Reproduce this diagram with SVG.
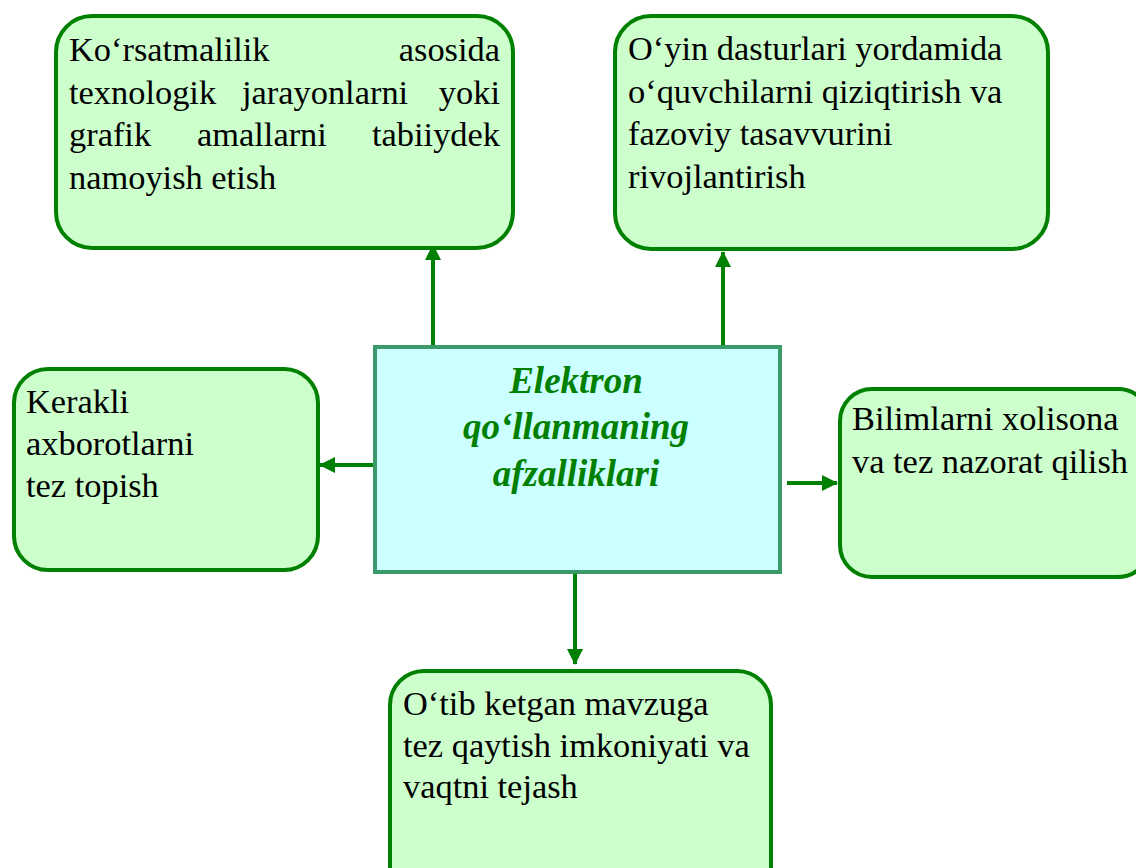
<svg xmlns="http://www.w3.org/2000/svg" width="1136" height="868" viewBox="0 0 1136 868">
<defs>
<style>
.box{fill:#CCFFCC;stroke:#008000;stroke-width:4}
.center{fill:#CCFFFF;stroke:#3A9A6A;stroke-width:4}
.c{stroke:#008000;stroke-width:4;fill:none}
</style>
<marker id="ah" markerUnits="userSpaceOnUse" markerWidth="16" markerHeight="16" viewBox="0 0 16 16" refX="15" refY="8" orient="auto">
<path d="M0,0 L16,8 L0,16 Z" fill="#008000"/>
</marker>
</defs>
<rect width="1136" height="868" fill="#fff"/>
<g id="connectors">
<line class="c" x1="433" y1="346" x2="433" y2="245" marker-end="url(#ah)"/>
<line class="c" x1="723" y1="351" x2="723" y2="252" marker-end="url(#ah)"/>
<line class="c" x1="373" y1="465" x2="320" y2="465" marker-end="url(#ah)"/>
<line class="c" x1="787" y1="483" x2="837" y2="483" marker-end="url(#ah)"/>
<line class="c" x1="575" y1="573" x2="575" y2="664" marker-end="url(#ah)"/>
</g>
<g id="node-top-left">
<rect class="box" x="56" y="16" width="457" height="232" rx="36"/>
<text font-family="'Liberation Serif'" font-size="34.4" fill="#000" x="69" y="61">Ko‘rsatmalilik</text>
<text font-family="'Liberation Serif'" font-size="34.4" fill="#000" x="500" y="61" text-anchor="end">asosida</text>
<text font-family="'Liberation Serif'" font-size="34.4" fill="#000" x="69" y="104">texnologik</text>
<text font-family="'Liberation Serif'" font-size="34.4" fill="#000" x="242" y="104">jarayonlarni</text>
<text font-family="'Liberation Serif'" font-size="34.4" fill="#000" x="500" y="104" text-anchor="end">yoki</text>
<text font-family="'Liberation Serif'" font-size="34.4" fill="#000" x="69" y="146">grafik</text>
<text font-family="'Liberation Serif'" font-size="34.4" fill="#000" x="197" y="146">amallarni</text>
<text font-family="'Liberation Serif'" font-size="34.4" fill="#000" x="500" y="146" text-anchor="end">tabiiydek</text>
<text font-family="'Liberation Serif'" font-size="34.4" fill="#000" x="69" y="189">namoyish etish</text>
</g>
<g id="node-top-right">
<rect class="box" x="615" y="16" width="433" height="233" rx="36"/>
<text font-family="'Liberation Serif'" font-size="34.4" fill="#000" x="628" y="60">O‘yin dasturlari yordamida</text>
<text font-family="'Liberation Serif'" font-size="34.4" fill="#000" x="628" y="103">o‘quvchilarni qiziqtirish va</text>
<text font-family="'Liberation Serif'" font-size="34.4" fill="#000" x="628" y="145">fazoviy tasavvurini</text>
<text font-family="'Liberation Serif'" font-size="34.4" fill="#000" x="628" y="188">rivojlantirish</text>
</g>
<g id="node-center">
<rect class="center" x="375" y="347" width="405" height="225"/>
<text font-family="'Liberation Serif'" font-size="37" font-weight="bold" font-style="italic" fill="#008000" text-anchor="middle" x="576" y="393">Elektron</text>
<text font-family="'Liberation Serif'" font-size="37" font-weight="bold" font-style="italic" fill="#008000" text-anchor="middle" x="576" y="439">qo‘llanmaning</text>
<text font-family="'Liberation Serif'" font-size="37" font-weight="bold" font-style="italic" fill="#008000" text-anchor="middle" x="576" y="486">afzalliklari</text>
</g>
<g id="node-left">
<rect class="box" x="14" y="369" width="304" height="201" rx="34"/>
<text font-family="'Liberation Serif'" font-size="34.4" fill="#000" x="26" y="413">Kerakli</text>
<text font-family="'Liberation Serif'" font-size="34.4" fill="#000" x="26" y="455">axborotlarni</text>
<text font-family="'Liberation Serif'" font-size="34.4" fill="#000" x="26" y="497">tez topish</text>
</g>
<g id="node-right">
<rect class="box" x="840" y="389" width="310" height="188" rx="32"/>
<text font-family="'Liberation Serif'" font-size="34.4" fill="#000" x="852" y="430">Bilimlarni xolisona</text>
<text font-family="'Liberation Serif'" font-size="34.4" fill="#000" x="852" y="473">va tez nazorat qilish</text>
</g>
<g id="node-bottom">
<rect class="box" x="390" y="671" width="381" height="230" rx="34"/>
<text font-family="'Liberation Serif'" font-size="34.4" fill="#000" x="403" y="715">O‘tib ketgan mavzuga</text>
<text font-family="'Liberation Serif'" font-size="34.4" fill="#000" x="403" y="757">tez qaytish imkoniyati va</text>
<text font-family="'Liberation Serif'" font-size="34.4" fill="#000" x="403" y="798">vaqtni tejash</text>
</g>
</svg>
